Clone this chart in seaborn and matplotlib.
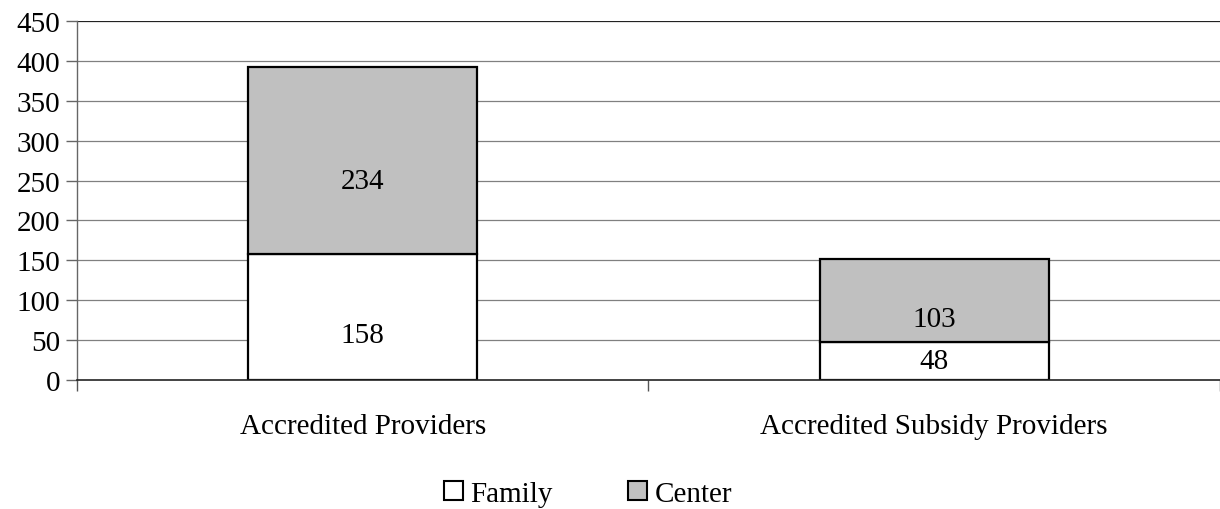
import pandas as pd
import matplotlib.pyplot as plt
import seaborn as sns
import numpy as np
from matplotlib.patches import Patch

categories = ["Accredited Providers", "Accredited Subsidy Providers"]
family = [158, 48]
center = [234, 103]
series_names = ["Family", "Center"]
yticks = [0, 50, 100, 150, 200, 250, 300, 350, 400, 450]

sns.set_theme(style="white")
plt.rcParams["font.family"] = ["Liberation Serif", "DejaVu Serif"]
plt.rcParams["font.size"] = 21
plt.rcParams["text.color"] = "black"
plt.rcParams["xtick.labelcolor"] = "black"
plt.rcParams["ytick.labelcolor"] = "black"

df = pd.DataFrame({"Category": categories, "Family": family, "Center": center})

fig = plt.figure(figsize=(12.2, 5.1), dpi=100)
ax = fig.add_axes([0.063, 0.253, 0.937, 0.704])

for y in yticks[1:]:
    ax.axhline(y, color="#808080" if y < 450 else "#222222", lw=0.9, zorder=0)

sns.barplot(data=df, x="Category", y="Family", color="white", width=0.4,
            edgecolor="black", linewidth=1.6, saturation=1, ax=ax, zorder=2)
sns.barplot(data=df, x="Category", y="Center", color="#c0c0c0", width=0.4,
            edgecolor="black", linewidth=1.6, saturation=1, ax=ax, zorder=2,
            bottom=df["Family"])

# label placement as fraction of each segment (matches original layout)
fam_pos = [0.36, 0.5]
cen_pos = [0.39, 0.27]
for i in range(len(categories)):
    ax.text(i, family[i] * fam_pos[i], str(family[i]), ha="center", va="center", fontsize=21)
    ax.text(i, family[i] + center[i] * cen_pos[i], str(center[i]), ha="center", va="center", fontsize=21)

ax.set_xlim(-0.5, 1.5)
ax.set_ylim(0, 450)
ax.set_yticks(yticks)
ax.set_xlabel("")
ax.set_ylabel("")
ax.set_xticks([-0.5, 0.5, 1.5], minor=True)
ax.tick_params(axis="x", which="major", length=0, pad=24, labelsize=21)
ax.tick_params(axis="x", which="minor", length=8, width=1, color="#555555", direction="out")
ax.tick_params(axis="y", length=8, width=1, color="#666666", direction="out", pad=4, labelsize=21)
ax.xaxis.set_ticks_position("bottom")
ax.yaxis.set_ticks_position("left")

for s in ["top", "right"]:
    ax.spines[s].set_visible(False)
ax.spines["left"].set_color("#666666")
ax.spines["left"].set_linewidth(1)
ax.spines["bottom"].set_color("#222222")
ax.spines["bottom"].set_linewidth(1.2)

handles = [Patch(facecolor="white", edgecolor="black", lw=1.5),
           Patch(facecolor="#c0c0c0", edgecolor="black", lw=1.5)]
fig.legend(handles, series_names, loc="center", bbox_to_anchor=(0.482, 0.03), ncol=2,
           frameon=False, handlelength=0.65, handleheight=0.65, handletextpad=0.25,
           columnspacing=2.6, fontsize=21, borderpad=0)

fig.savefig("out.png", dpi=100)
